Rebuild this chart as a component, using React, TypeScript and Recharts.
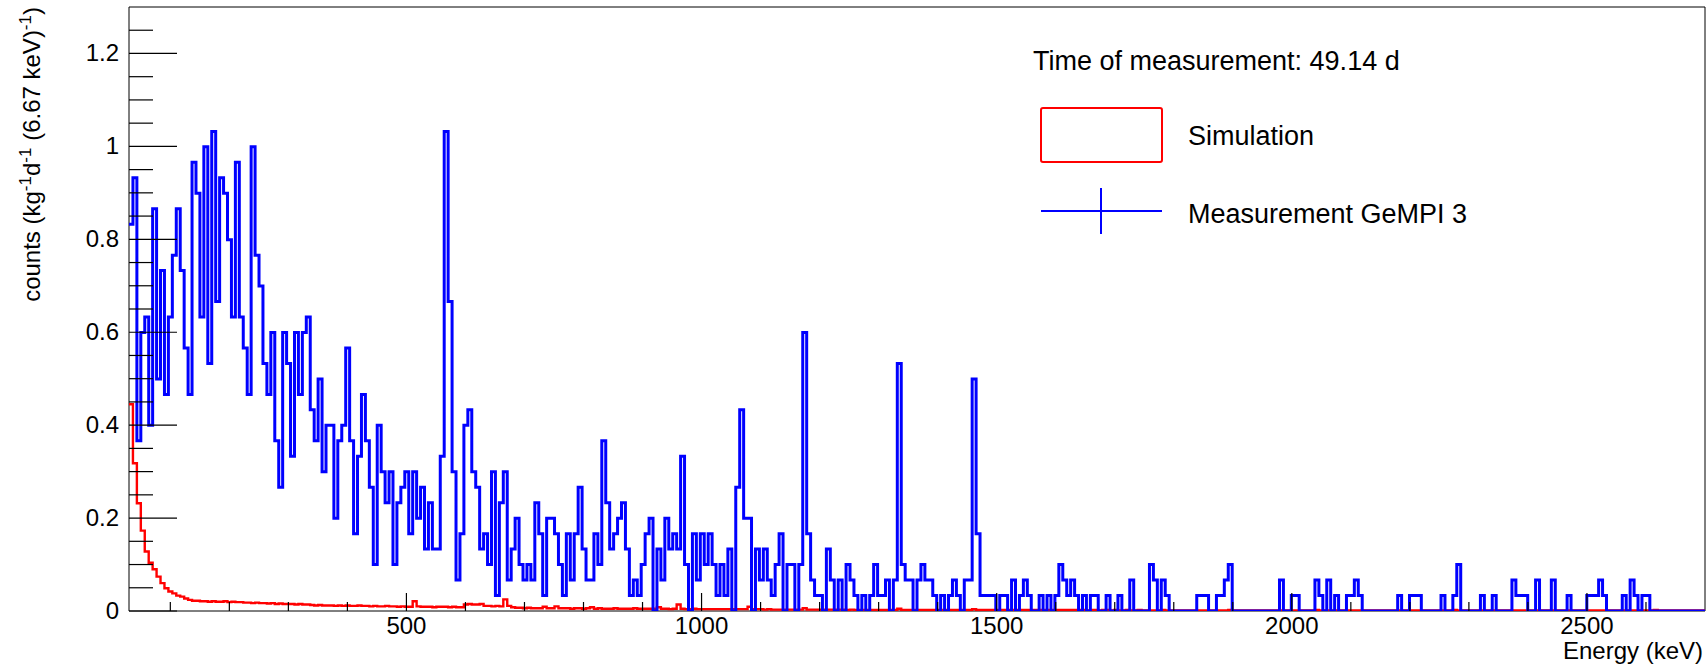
import { ComposedChart, Line, XAxis, YAxis, ReferenceArea } from "recharts";

// 400 bins of 6.675 keV from 30 to 2700 keV
const binStart = 30;
const binEnd = 2700;
const binWidth = 6.675;
// one count per bin in (kg^-1 d^-1 (6.67 keV)^-1)
const countUnit = 0.0333;

// Measurement GeMPI 3, counts per bin
const measCounts = [
  25, 28, 11, 18, 19, 12, 26, 15, 22, 14, 19, 23, 26, 22, 17, 14, 29, 27, 19, 30,
  16, 31, 20, 28, 27, 24, 19, 29, 19, 17, 14, 30, 23, 21, 16, 14, 18, 11, 8, 18,
  16, 10, 18, 14, 18, 19, 13, 11, 15, 9, 12, 12, 6, 11, 12, 17, 11, 5, 10, 14,
  11, 8, 3, 12, 9, 7, 9, 3, 7, 8, 9, 5, 9, 6, 8, 4, 7, 4, 4, 10,
  31, 20, 9, 2, 5, 12, 13, 9, 8, 4, 5, 3, 9, 1, 7, 9, 2, 4, 6, 3,
  2, 3, 2, 7, 5, 1, 6, 6, 5, 3, 1, 5, 2, 5, 8, 4, 2, 2, 5, 3,
  11, 7, 4, 5, 6, 7, 4, 1, 2, 1, 3, 5, 6, 0, 4, 2, 6, 4, 5, 4,
  10, 3, 0, 5, 2, 5, 3, 5, 3, 1, 3, 1, 4, 0, 8, 13, 6, 6, 0, 4,
  2, 4, 2, 1, 3, 5, 0, 3, 3, 0, 3, 18, 5, 2, 1, 1, 0, 4, 2, 0,
  2, 0, 3, 2, 1, 0, 1, 0, 1, 3, 1, 1, 2, 0, 2, 16, 3, 2, 2, 0,
  2, 3, 2, 2, 1, 0, 1, 0, 1, 2, 1, 0, 2, 2, 15, 5, 1, 1, 1, 1,
  0, 1, 1, 0, 2, 0, 1, 2, 1, 0, 0, 1, 0, 1, 0, 1, 3, 2, 1, 2,
  1, 0, 1, 0, 1, 1, 0, 0, 1, 0, 0, 1, 0, 0, 2, 0, 0, 0, 0, 3,
  2, 0, 2, 1, 0, 0, 0, 0, 0, 0, 0, 1, 1, 1, 0, 0, 1, 1, 2, 3,
  0, 0, 0, 0, 0, 0, 0, 0, 0, 0, 0, 0, 2, 0, 0, 1, 1, 0, 0, 0,
  0, 2, 1, 0, 2, 0, 1, 0, 0, 1, 1, 2, 1, 0, 0, 0, 0, 0, 0, 0,
  0, 0, 1, 0, 0, 1, 1, 1, 0, 0, 0, 0, 0, 1, 0, 0, 1, 3, 0, 0,
  0, 0, 0, 1, 0, 0, 1, 0, 0, 0, 0, 2, 1, 1, 1, 0, 0, 2, 0, 0,
  0, 2, 0, 0, 0, 1, 0, 0, 0, 0, 1, 1, 1, 2, 1, 0, 0, 0, 0, 1,
  0, 2, 1, 0, 1, 1, 0, 0, 0, 0, 0, 0, 0, 0, 0, 0, 0, 0, 0, 0,
];

// Simulation, same units
const simValues = [
  0.445, 0.318, 0.232, 0.173, 0.128, 0.104, 0.09, 0.074, 0.06, 0.049, 0.042, 0.038, 0.033, 0.031, 0.027, 0.024, 0.022, 0.022, 0.021, 0.021,
  0.02, 0.021, 0.02, 0.02, 0.021, 0.019, 0.02, 0.019, 0.019, 0.018, 0.018, 0.017, 0.018, 0.017, 0.017, 0.016, 0.017, 0.015, 0.016, 0.015,
  0.015, 0.015, 0.014, 0.015, 0.014, 0.014, 0.013, 0.012, 0.013, 0.012, 0.012, 0.012, 0.011, 0.012, 0.011, 0.012, 0.011, 0.011, 0.012, 0.011,
  0.011, 0.01, 0.011, 0.01, 0.01, 0.011, 0.01, 0.01, 0.009, 0.01, 0.009, 0.009, 0.021, 0.01, 0.009, 0.009, 0.009, 0.008, 0.009, 0.009,
  0.009, 0.008, 0.009, 0.008, 0.008, 0.014, 0.015, 0.014, 0.014, 0.015, 0.011, 0.011, 0.01, 0.011, 0.01, 0.025, 0.011, 0.008, 0.007, 0.007,
  0.006, 0.007, 0.006, 0.006, 0.006, 0.009, 0.006, 0.006, 0.01, 0.006, 0.006, 0.006, 0.005, 0.006, 0.006, 0.005, 0.006, 0.008, 0.005, 0.006,
  0.005, 0.005, 0.005, 0.006, 0.005, 0.005, 0.005, 0.005, 0.006, 0.005, 0.005, 0.005, 0.005, 0.005, 0.008, 0.005, 0.005, 0.004, 0.005, 0.014,
  0.005, 0.004, 0.004, 0.005, 0.004, 0.004, 0.004, 0.004, 0.004, 0.004, 0.004, 0.004, 0.004, 0.004, 0.004, 0.004, 0.004, 0.009, 0.004, 0.004,
  0.004, 0.003, 0.004, 0.003, 0.003, 0.003, 0.003, 0.003, 0.003, 0.003, 0.003, 0.006, 0.003, 0.003, 0.003, 0.003, 0.003, 0.003, 0.003, 0.003,
  0.003, 0.003, 0.002, 0.003, 0.002, 0.002, 0.002, 0.002, 0.002, 0.002, 0.002, 0.002, 0.002, 0.002, 0.002, 0.005, 0.002, 0.002, 0.002, 0.002,
  0.002, 0.002, 0.002, 0.002, 0.002, 0.002, 0.002, 0.002, 0.002, 0.002, 0.002, 0.002, 0.002, 0.002, 0.004, 0.002, 0.002, 0.002, 0.002, 0.002,
  0.002, 0.002, 0.002, 0.002, 0.002, 0.002, 0.002, 0.002, 0.002, 0.002, 0.002, 0.002, 0.002, 0.002, 0.002, 0.002, 0.002, 0.002, 0.002, 0.002,
  0.002, 0.002, 0.002, 0.001, 0.002, 0.002, 0.001, 0.002, 0.002, 0.001, 0.002, 0.001, 0.001, 0.002, 0.001, 0.001, 0.002, 0.001, 0.001, 0.001,
  0.001, 0.001, 0.002, 0.001, 0.001, 0.001, 0.001, 0.001, 0.001, 0.001, 0.001, 0.001, 0.001, 0.001, 0.001, 0.001, 0.001, 0.001, 0.001, 0.002,
  0.001, 0.001, 0.001, 0.001, 0.001, 0.001, 0.001, 0.001, 0.001, 0.001, 0.001, 0.001, 0.001, 0.001, 0.001, 0.001, 0.001, 0.001, 0.001, 0.001,
  0.001, 0.002, 0.001, 0.001, 0.001, 0.001, 0.001, 0.001, 0.001, 0.001, 0.001, 0.001, 0.001, 0.001, 0.001, 0.001, 0.001, 0.001, 0.001, 0.001,
  0.001, 0.001, 0.001, 0.001, 0.001, 0.001, 0.001, 0.001, 0.001, 0.001, 0.001, 0.001, 0.001, 0.001, 0.001, 0.001, 0.002, 0.001, 0.001, 0.001,
  0.001, 0.001, 0.001, 0.001, 0.001, 0.001, 0.001, 0.001, 0.001, 0.001, 0.001, 0.001, 0.001, 0.001, 0.001, 0.001, 0.001, 0.001, 0.001, 0.001,
  0.001, 0.001, 0.001, 0.001, 0.001, 0.001, 0.001, 0.001, 0.001, 0.001, 0.001, 0.001, 0.001, 0.001, 0.001, 0.001, 0.001, 0.001, 0.001, 0.001,
  0.001, 0.001, 0.001, 0.001, 0.001, 0.001, 0.001, 0.002, 0.001, 0.001, 0.001, 0.001, 0.001, 0.001, 0.001, 0.001, 0.001, 0.001, 0.001, 0.001,
];

const xMajor = [500, 1000, 1500, 2000, 2500];
const xTicks = [
  100, 200, 300, 400, 500, 600, 700, 800, 900, 1000, 1100, 1200, 1300,
  1400, 1500, 1600, 1700, 1800, 1900, 2000, 2100, 2200, 2300, 2400, 2500, 2600,
];
const yMajor = ["0", "0.2", "0.4", "0.6", "0.8", "1", "1.2"];
const yTicks = [
  0, 0.05, 0.1, 0.15, 0.2, 0.25, 0.3, 0.35, 0.4, 0.45, 0.5, 0.55, 0.6, 0.65,
  0.7, 0.75, 0.8, 0.85, 0.9, 0.95, 1, 1.05, 1.1, 1.15, 1.2, 1.25,
];
const yMax = 1.3;

const FONT = "'Liberation Sans', Arial, Helvetica, sans-serif";

const data = measCounts.map((c, i) => ({
  e: binStart + i * binWidth,
  meas: c * countUnit,
  sim: simValues[i],
}));
// closing point so the last step reaches the upper edge
data.push({
  e: binEnd,
  meas: measCounts[measCounts.length - 1] * countUnit,
  sim: simValues[simValues.length - 1],
});

// ROOT style: ticks drawn inside the frame
function XTick(props: any) {
  const { x, y, payload } = props;
  const major = xMajor.includes(payload.value);
  return (
    <g>
      <line x1={x} x2={x} y1={y} y2={y - (major ? 18 : 9)} stroke="#000" strokeWidth={1.2} />
      {major && (
        <text x={x} y={y + 23} textAnchor="middle" fontSize={24} fontFamily={FONT} fill="#000">
          {payload.value}
        </text>
      )}
    </g>
  );
}

function YTick(props: any) {
  const { x, y, payload } = props;
  const label = String(payload.value);
  const major = yMajor.includes(label);
  return (
    <g>
      <line x1={x} x2={x + (major ? 48 : 24)} y1={y} y2={y} stroke="#000" strokeWidth={1.2} />
      {major && (
        <text x={x - 10} y={y + 8} textAnchor="end" fontSize={24} fontFamily={FONT} fill="#000">
          {label}
        </text>
      )}
    </g>
  );
}

export default function App() {
  return (
    <div style={{ position: "absolute", left: 0, top: 0, width: 1706, height: 667, background: "#fff" }}>
      <ComposedChart
        width={1706}
        height={667}
        data={data}
        margin={{ top: 7, right: 1, bottom: 0, left: 0 }}
      >
        <XAxis
          dataKey="e"
          type="number"
          domain={[binStart, binEnd]}
          allowDataOverflow
          ticks={xTicks}
          interval={0}
          height={56}
          tickSize={0}
          tickMargin={0}
          axisLine={false}
          tickLine={false}
          tick={<XTick />}
        />
        <YAxis
          type="number"
          domain={[0, yMax]}
          allowDataOverflow
          ticks={yTicks}
          interval={0}
          width={129}
          tickSize={0}
          tickMargin={0}
          axisLine={false}
          tickLine={false}
          tick={<YTick />}
        />
        <Line
          type="stepAfter"
          dataKey="sim"
          stroke="#ff0000"
          strokeWidth={2.4}
          dot={false}
          isAnimationActive={false}
        />
        <Line
          type="stepAfter"
          dataKey="meas"
          stroke="#0000ff"
          strokeWidth={3}
          dot={false}
          isAnimationActive={false}
        />
        <ReferenceArea
          x1={binStart}
          x2={binEnd}
          y1={0}
          y2={yMax}
          fill="none"
          fillOpacity={0}
          stroke="#000"
          strokeWidth={1}
          ifOverflow="visible"
        />
      </ComposedChart>

      <svg
        width={1706}
        height={667}
        style={{ position: "absolute", left: 0, top: 0, pointerEvents: "none" }}
        fontFamily={FONT}
      >
        <text transform="translate(40,7) rotate(-90)" textAnchor="end" fontSize={24} fill="#000">
          counts (kg<tspan dy={-9} fontSize={17}>-1</tspan>
          <tspan dy={9}>d</tspan>
          <tspan dy={-9} fontSize={17}>-1</tspan>
          <tspan dy={9}> (6.67 keV)</tspan>
          <tspan dy={-9} fontSize={17}>-1</tspan>
          <tspan dy={9}>)</tspan>
        </text>
        <text x={1703} y={659} textAnchor="end" fontSize={24} fill="#000">
          Energy (keV)
        </text>

        {/* legend */}
        <text x={1033} y={70} fontSize={27} fill="#000">
          Time of measurement: 49.14 d
        </text>
        <rect x={1041} y={108} width={121} height={54} rx={2} fill="none" stroke="#ff0000" strokeWidth={2} />
        <text x={1188} y={145} fontSize={27} fill="#000">
          Simulation
        </text>
        <line x1={1041} x2={1162} y1={211} y2={211} stroke="#0000ff" strokeWidth={2} />
        <line x1={1101} x2={1101} y1={188} y2={234} stroke="#0000ff" strokeWidth={2} />
        <text x={1188} y={223} fontSize={27} fill="#000">
          Measurement GeMPI 3
        </text>
      </svg>
    </div>
  );
}
